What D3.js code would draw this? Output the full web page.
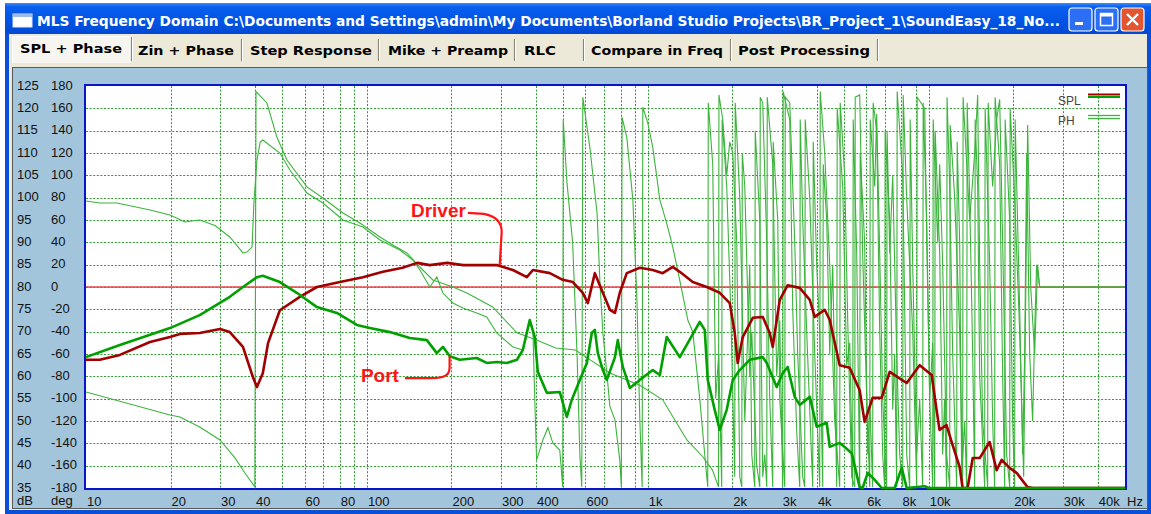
<!DOCTYPE html>
<html>
<head>
<meta charset="utf-8">
<script src="https://cdn.jsdelivr.net/npm/d3@7/dist/d3.min.js"></script>
<style>
  html, body { margin: 0; padding: 0; background: #ffffff; }
  svg { display: block; }
</style>
</head>
<body>
<svg id="chart" width="1151" height="514"></svg>
<script>
// ---------------- data ----------------
const tabNames = ["SPL + Phase", "Zin + Phase", "Step Response", "Mike + Preamp", "RLC", "Compare in Freq", "Post Processing"];
const freqTicks = [10, 20, 30, 40, 60, 80, 100, 200, 300, 400, 600, 1000, 2000, 3000, 4000, 6000, 8000, 10000, 20000, 30000, 40000];
const freqTickLabels = ["10", "20", "30", "40", "60", "80", "100", "200", "300", "400", "600", "1k", "2k", "3k", "4k", "6k", "8k", "10k", "20k", "30k", "40k"];
const dbTicks = [125, 120, 115, 110, 105, 100, 95, 90, 85, 80, 75, 70, 65, 60, 55, 50, 45, 40, 35];
const degTicks = [180, 160, 140, 120, 100, 80, 60, 40, 20, 0, -20, -40, -60, -80, -100, -120, -140, -160, -180];

// Driver SPL [Hz, dB]
const driverSpl = [
  [10, 63.7], [11.2, 63.7], [13.2, 64.8], [16.9, 67.7], [19.9, 68.8], [21.6, 69.5], [25.4, 69.7], [30, 70.6],
  [32.5, 69.9], [36.2, 66.6], [39.3, 59.8], [40.6, 57.6], [42.6, 60.7], [44.5, 67.5], [49, 74.8], [57.7, 77.8],
  [66.4, 80.0], [80.2, 81.1], [96.8, 82.2], [114, 83.4], [134, 84.3], [151, 85.4], [167.5, 84.9], [193, 85.4],
  [220, 84.9], [290, 84.9], [331, 83.8], [371, 82.2], [390, 83.8], [448, 83.1], [498, 81.6], [541, 81.1],
  [587, 78.7], [612, 76.4], [648, 83.1], [692, 78.7], [733, 74.9], [764, 74.2], [795, 78.7], [842, 83.1],
  [937, 84.3], [1042, 83.8], [1130, 83.1], [1227, 84.5], [1300, 83.4], [1446, 81.1], [1622, 80.0], [1804, 78.7],
  [1958, 76.4], [2040, 69.7], [2090, 63.0], [2178, 68.8], [2365, 73.1], [2567, 73.3], [2718, 69.7], [2785, 66.6],
  [2950, 77.1], [3149, 80.4], [3475, 79.8], [3774, 77.1], [3929, 73.3], [4266, 74.9], [4444, 72.6], [4822, 62.5],
  [5236, 61.9], [5680, 56.9], [5916, 49.8], [6319, 55.2], [6804, 55.2], [7265, 61.0], [8351, 58.5], [9290, 62.5],
  [10250, 60.3], [10670, 52.5], [10930, 48.0], [11580, 49.1], [12070, 45.3], [12890, 39.7], [13210, 35.0],
  [13760, 33.5], [14350, 41.7], [15190, 41.7], [16480, 45.3], [17460, 39.0], [18200, 41.3], [19410, 39.5],
  [20560, 38.4], [22490, 35.2], [23500, 33.0], [50000, 30.0]
];

// Port SPL [Hz, dB]
const portSpl = [
  [10, 64.3], [13.2, 67.0], [19.9, 70.8], [25.4, 73.7], [32.5, 77.8], [36.2, 80.0], [40.6, 82.2], [42.6, 82.5],
  [49, 81.1], [56.3, 78.7], [66.4, 75.5], [78.2, 74.2], [92.1, 71.5], [102.5, 70.8], [120.7, 69.9], [142.2, 68.6],
  [163.5, 68.1], [177.4, 65.2], [186.5, 66.6], [197.4, 64.5], [214, 63.7], [246, 64.1], [267, 63.0], [290, 63.2],
  [315, 63.0], [342, 63.7], [359, 65.9], [380, 72.6], [396, 68.8], [406, 61.0], [437, 56.3], [486, 56.5],
  [515, 50.9], [536, 54.7], [573, 59.2], [607, 63.0], [632, 69.7], [648, 70.4], [664, 65.2], [692, 61.4],
  [715, 59.2], [764, 64.3], [782, 68.1], [815, 62.1], [863, 57.4], [937, 59.2], [1042, 61.4], [1104, 60.3],
  [1168, 68.8], [1300, 64.3], [1531, 72.2], [1595, 70.4], [1635, 59.2], [1731, 52.5], [1804, 48.0], [1910, 52.5],
  [2007, 59.2], [2125, 61.4], [2306, 63.7], [2567, 64.3], [2652, 63.0], [2877, 57.6], [3022, 60.7], [3149, 62.1],
  [3335, 55.4], [3475, 53.6], [3774, 55.4], [3993, 48.7], [4335, 49.6], [4444, 44.2], [4822, 45.1], [5023, 44.2],
  [5321, 42.8], [5680, 35.2], [5821, 34.0], [6067, 38.4], [6427, 36.8], [6804, 34.0], [7568, 34.0], [8017, 39.5],
  [8351, 34.0], [9683, 35.4], [10000, 33.0], [50000, 30.0]
];

// Driver phase [Hz, deg]
const driverPhase = [
  [10, 77], [11.2, 75.2], [12.9, 75.2], [16.9, 69], [19.9, 64.5], [22.5, 58.2], [25.4, 60], [28.8, 55],
  [32.5, 44.8], [36.2, 30.5], [37.4, 31.3], [39, 35.8], [39.6, 75.2], [40.6, 113.7], [41.7, 129.9], [42.6, 131.6],
  [49, 120], [53.2, 104.8], [61.2, 84.2], [69.7, 75.2], [82.2, 60], [96.8, 53.7], [111.3, 42.1], [131, 33.1],
  [145.8, 24.2], [154.4, 15.2], [167.5, 0], [177.4, 9], [186.5, -5.4], [202.3, -14.3], [219.6, -18.8],
  [246, -23.3], [267, -26.9], [290, -41.2], [331, -53.7], [359, -56.4], [380, -31.3], [390, -38.5], [396, -101],
  [402, -155], [423, -137], [441, -126], [459, -139.7], [486, -146], [498, -179],
  [500, 150], [515, 95], [540, 40], [560, -60], [573, -150], [582, -179],
  [587, 170], [622, 125], [660, 66], [675, 6], [692, -41], [715, -77], [733, -107], [764, -119], [795, -155], [805, -179],
  [810, 152], [842, 134], [885, 78], [915, -12], [937, -119], [955, -179],
  [960, 161], [1000, 147], [1042, 125], [1104, 78], [1168, 57], [1227, 36], [1300, 6], [1390, -30],
  [1446, -40], [1531, -100], [1595, -150], [1635, -179], [1642, 165], [1703, 110], [1745, -100], [1789, -60],
  [1833, -179], [1840, 150], [1910, 90], [1974, -20], [2040, -170], [2048, 165], [2126, 80], [2215, -120],
  [2270, -40], [2307, 20], [2345, -150], [2403, -179], [2413, 140], [2504, 60], [2566, -170], [2609, -150],
  [2652, -179], [2663, 170], [2785, 110], [2877, -80], [2950, -30], [3022, -179], [3034, 175], [3202, 150],
  [3281, -20], [3391, -130], [3475, -179], [3489, 150], [3561, 60], [3680, -40], [3772, -110], [3866, -179],
  [3882, 130], [3993, 20], [4094, -40], [4196, -179], [4213, 110], [4335, 60], [4444, -60], [4554, 20],
  [4706, -179], [4725, 160], [4943, 90], [5106, -70], [5235, -50], [5365, -179], [5387, 150], [5544, 30],
  [5682, -179], [5705, 120], [5916, 40], [6067, -150], [6168, -100], [6319, -179], [6345, 165], [6530, 140],
  [6694, -40], [6860, -150], [6970, -179], [6999, 140], [7266, 60], [7447, -110], [7568, -60], [7693, -179],
  [7725, 175], [8082, 100], [8217, -20], [8351, -150], [8560, -179], [8595, 150], [8774, 20], [9063, -150],
  [9291, -100], [9520, -179], [9560, 165], [9843, 60], [10085, -100], [10336, -50], [10506, -179], [10549, 140],
  [10946, 30], [11216, -150], [11400, -100], [11580, -179], [11628, 170], [11881, 90], [12176, -60], [12580, -179],
  [12632, 130], [12895, 40], [13108, -170], [13434, -120], [13655, -179], [13711, 165], [13997, 80], [14344, -60],
  [14581, -179], [14641, 150], [14944, 90], [15192, -80], [15566, -140], [15823, -179], [15888, 160], [16490, 20],
  [16897, -120], [17173, -179], [17243, 170], [17898, 110], [18342, -80], [18647, -179], [18723, 150], [19427, 60],
  [19908, -120], [20235, -179], [20318, 150], [21086, -20], [21610, -150], [21967, -60], [22330, 120], [22887, -60],
  [23453, -120], [23842, -40], [24230, 20], [24842, 0], [50000, 0]
];

// Port phase [Hz, deg]
const portPhase = [
  [10, -94], [19.9, -114.6], [21.6, -116.4], [25.4, -125.4], [30, -137], [33.9, -153], [36.8, -166.6], [39.9, -179],
  [40.3, 175], [44.06, 164.8], [47.8, 134.3], [51.9, 113.7], [61.2, 89.6], [69.7, 79.7], [82.2, 66.3], [94.4, 57.3],
  [111.3, 44.8], [123.7, 37.6], [138.7, 30.5], [154.4, 17.9], [171.7, 6.3], [202.3, 0], [227, -5.4], [280.5, -17.9],
  [342, -41], [402, -47.5], [470, -54.6], [553, -56.4], [622, -65], [733, -77], [937, -88], [1130, -101],
  [1378, -137], [1570, -152], [1700, -164], [1785, -179],
  [1792, 172], [1849, 150], [1910, 100], [1958, 130], [2007, 120], [2074, 40], [2126, -170], [2161, -179],
  [2170, 120], [2215, 90], [2307, -80], [2345, -40], [2443, -160], [2504, -179], [2514, 170], [2566, 165],
  [2652, 40], [2718, -100], [2785, -179], [2796, 130], [2902, 60], [2950, -100], [3073, -179], [3086, 170],
  [3202, 165], [3336, 40], [3418, -60], [3561, -170], [3620, -179], [3635, 150], [3772, 80], [3930, -60],
  [4094, -179], [4111, 175], [4265, 120], [4444, 20], [4630, -120], [4823, -179], [4843, 165], [5023, 100],
  [5150, -30], [5322, -170], [5454, -179], [5476, 170], [5682, 172], [5821, 30], [6018, -100], [6168, -179],
  [6193, 150], [6427, 90], [6530, 155], [6694, 30], [6860, -100], [7083, -179], [7112, 140], [7266, 30],
  [7447, 100], [7693, -60], [7887, -150], [8082, -179], [8115, 172], [8351, 80], [8774, -40], [9063, -179],
  [9100, 170], [9683, 160], [9843, 40], [10085, -100], [10336, -179], [10378, 150], [10770, 40], [10946, 110],
  [11216, 20], [11580, -150], [11881, -179], [11930, 145], [12375, 80], [12895, -40], [13210, -179], [13264, 170],
  [13997, 60], [14581, 120], [14944, 172], [15192, 20], [15566, -120], [16220, -179], [16286, 165], [16897, 90],
  [17460, 150], [17898, 168], [18342, 40], [18953, -150], [19427, -179], [19507, 160], [20235, 80], [21086, -40],
  [21788, -170], [22513, 145], [23080, 0], [23842, -60], [24430, 20], [24842, 0], [50000, 0]
];

// callouts: label position and the curve point it points to
const callouts = [
  { label: "Driver", textHz: 143.5, textDb: 95.7, targetHz: 297, targetDb: 84.9 },
  { label: "Port", textHz: 95.2, textDb: 58.7, targetHz: 197, targetDb: 64.5 }
];

// ---------------- layout ----------------
const W = 1151, H = 514;
const plot = { left: 86, right: 1125, top: 86, bottom: 488 };

const svg = d3.select("#chart");
const defs = svg.append("defs");

const x = d3.scaleLog().domain([10, 50000]).range([plot.left, plot.right]);
const yDb = d3.scaleLinear().domain([35, 125]).range([plot.bottom, plot.top]).clamp(true);
const yDeg = d3.scaleLinear().domain([-180, 180]).range([plot.bottom, plot.top]).clamp(true);

// ---------------- window chrome ----------------
const tg = defs.append("linearGradient").attr("id", "titleGrad").attr("x1", 0).attr("y1", 0).attr("x2", 0).attr("y2", 1);
tg.append("stop").attr("offset", "0%").attr("stop-color", "#3d8cf8");
tg.append("stop").attr("offset", "12%").attr("stop-color", "#0a5fef");
tg.append("stop").attr("offset", "60%").attr("stop-color", "#0054e3");
tg.append("stop").attr("offset", "100%").attr("stop-color", "#0148d4");

svg.append("rect").attr("x", 5).attr("y", 3).attr("width", W - 5).attr("height", H - 3).attr("fill", "#0a4fd8");
svg.append("rect").attr("x", 5).attr("y", 3).attr("width", W - 5).attr("height", 31).attr("fill", "url(#titleGrad)");
svg.append("rect").attr("x", 9).attr("y", 34).attr("width", W - 13).attr("height", H - 38).attr("fill", "#ece9d8");

// title icon
svg.append("rect").attr("x", 13).attr("y", 14).attr("width", 19).attr("height", 13).attr("fill", "#ffffff").attr("stroke", "#dfe8f8");
svg.append("rect").attr("x", 13).attr("y", 14).attr("width", 19).attr("height", 3).attr("fill", "#9fb9e8");

svg.append("text")
  .attr("x", 37).attr("y", 26)
  .attr("font-family", "DejaVu Sans, Verdana, sans-serif").attr("font-weight", "bold").attr("font-size", 14)
  .attr("fill", "#ffffff")
  .attr("textLength", 1023).attr("lengthAdjust", "spacingAndGlyphs")
  .text("MLS Frequency Domain  C:\\Documents and Settings\\admin\\My Documents\\Borland Studio Projects\\BR_Project_1\\SoundEasy_18_No...");

// caption buttons
const btns = [{ x: 1069, fill: "#2b6ff4", kind: "min" }, { x: 1095, fill: "#2b6ff4", kind: "max" }, { x: 1121, fill: "#e2562f", kind: "close" }];
btns.forEach(b => {
  svg.append("rect").attr("x", b.x).attr("y", 8).attr("width", 23).attr("height", 23).attr("rx", 3)
    .attr("fill", b.fill).attr("stroke", "#ffffff").attr("stroke-width", 1.2);
  if (b.kind === "min") {
    svg.append("rect").attr("x", b.x + 6).attr("y", 22).attr("width", 8).attr("height", 3).attr("fill", "#fff");
  } else if (b.kind === "max") {
    svg.append("rect").attr("x", b.x + 5.5).attr("y", 13.5).attr("width", 12).attr("height", 12).attr("fill", "none")
      .attr("stroke", "#fff").attr("stroke-width", 1.5);
    svg.append("rect").attr("x", b.x + 5.5).attr("y", 13.5).attr("width", 12).attr("height", 3).attr("fill", "#fff");
  } else {
    svg.append("path").attr("d", `M${b.x + 6},${14} L${b.x + 17},${25} M${b.x + 17},${14} L${b.x + 6},${25}`)
      .attr("stroke", "#fff").attr("stroke-width", 2.4);
  }
});

// tabs
const tabEnd = [131, 241, 378, 514, 583, 730, 877];
const tabTextX = [20, 138, 250, 388, 524, 591, 738];
const tabTextW = [102, 96, 122, 120, 32, 132, 132];
svg.append("rect").attr("x", 12).attr("y", 36).attr("width", 119).attr("height", 27).attr("fill", "#f6f5ef");
svg.append("path").attr("d", "M12.5,63 L12.5,36.5 L130.5,36.5").attr("fill", "none").attr("stroke", "#ffffff");
tabNames.forEach((t, i) => {
  const active = i === 0;
  svg.append("text")
    .attr("x", tabTextX[i]).attr("y", active ? 53 : 55)
    .attr("font-family", "DejaVu Sans, Verdana, sans-serif").attr("font-weight", "bold").attr("font-size", 13)
    .attr("fill", "#000")
    .attr("textLength", tabTextW[i]).attr("lengthAdjust", "spacingAndGlyphs")
    .text(t);
  const sx = tabEnd[i];
  svg.append("line").attr("x1", sx + 0.5).attr("x2", sx + 0.5).attr("y1", active ? 37 : 39).attr("y2", 61).attr("stroke", "#8a877a").attr("stroke-width", 1.2);
  svg.append("line").attr("x1", sx + 1.5).attr("x2", sx + 1.5).attr("y1", active ? 37 : 39).attr("y2", 61).attr("stroke", "#ffffff");
});

// plot panel
svg.append("rect").attr("x", 12.5).attr("y", 67.5).attr("width", 1135).attr("height", 441)
  .attr("fill", "#a2c5dc").attr("stroke", "#5a5a5a");

// plot background
svg.append("rect").attr("x", plot.left).attr("y", plot.top).attr("width", plot.right - plot.left).attr("height", plot.bottom - plot.top).attr("fill", "#ffffff");

// ---------------- grid ----------------
const gridMinor = [];
[10, 100, 1000, 10000].forEach(dec => { for (let k = 1; k <= 9; k++) { const f = dec * k; if (f <= 50000) gridMinor.push(f); } });
const grid = svg.append("g").attr("stroke", "#2f9a2f").attr("stroke-width", 1).attr("stroke-dasharray", "2,1.6");
grid.selectAll("line.v").data(gridMinor.filter(f => f > 10 && f < 50000)).join("line")
  .attr("x1", d => Math.round(x(d)) + 0.5).attr("x2", d => Math.round(x(d)) + 0.5)
  .attr("y1", plot.top).attr("y2", plot.bottom);
grid.selectAll("line.h").data(dbTicks.filter(d => d > 35 && d < 125)).join("line")
  .attr("x1", plot.left).attr("x2", plot.right)
  .attr("y1", d => Math.round(yDb(d)) + 0.5).attr("y2", d => Math.round(yDb(d)) + 0.5);

// reference line at 80 dB / 0 deg
svg.append("line").attr("x1", plot.left).attr("x2", plot.right)
  .attr("y1", yDb(80)).attr("y2", yDb(80)).attr("stroke", "#e04848").attr("stroke-width", 1.3);

// ---------------- axis labels ----------------
const labelFont = "Liberation Sans, Arial, sans-serif";
const axisG = svg.append("g").attr("font-family", labelFont).attr("font-size", 13).attr("fill", "#111");
axisG.selectAll("text.db").data(dbTicks).join("text")
  .attr("x", 17).attr("y", d => yDb(d) - 1).attr("dominant-baseline", "central").text(d => d);
axisG.selectAll("text.deg").data(degTicks).join("text")
  .attr("x", 51).attr("y", d => yDeg(d) - 1).attr("dominant-baseline", "central").text(d => d);
axisG.append("text").attr("x", 17).attr("y", 500).attr("dominant-baseline", "central").text("dB");
axisG.append("text").attr("x", 51).attr("y", 500).attr("dominant-baseline", "central").text("deg");
axisG.selectAll("text.f").data(freqTicks).join("text")
  .attr("x", d => x(d) + 1).attr("y", 501).attr("dominant-baseline", "central")
  .text((d, i) => freqTickLabels[i]);
axisG.append("text").attr("x", 1127).attr("y", 501).attr("dominant-baseline", "central").text("Hz");

// ---------------- curves ----------------
defs.append("clipPath").attr("id", "plotClip").append("rect")
  .attr("x", plot.left).attr("y", plot.top - 1).attr("width", plot.right - plot.left).attr("height", plot.bottom - plot.top + 2);

// plot frame
svg.append("rect").attr("x", plot.left - 1).attr("y", plot.top - 1).attr("width", plot.right - plot.left + 2).attr("height", plot.bottom - plot.top + 2)
  .attr("fill", "none").attr("stroke", "#0a14c8").attr("stroke-width", 2);

const curves = svg.append("g").attr("clip-path", "url(#plotClip)");
const phaseLine = d3.line().x(d => x(d[0])).y(d => yDeg(d[1]));
const splLine = d3.line().x(d => x(d[0])).y(d => yDb(d[1]));

curves.append("path").datum(driverPhase).attr("d", phaseLine).attr("fill", "none").attr("stroke", "#3cb43c").attr("stroke-width", 1.1);
curves.append("path").datum(portPhase).attr("d", phaseLine).attr("fill", "none").attr("stroke", "#3cb43c").attr("stroke-width", 1.1);
curves.append("path").datum(driverSpl).attr("d", splLine).attr("fill", "none").attr("stroke", "#a00000").attr("stroke-width", 2.6).attr("stroke-linejoin", "round");
curves.append("path").datum(portSpl).attr("d", splLine).attr("fill", "none").attr("stroke", "#00a000").attr("stroke-width", 2.6).attr("stroke-linejoin", "round");

// ---------------- legend ----------------
const lg = svg.append("g").attr("font-family", labelFont).attr("font-size", 12).attr("fill", "#444");
lg.append("text").attr("x", 1058).attr("y", 101).attr("dominant-baseline", "central").text("SPL");
lg.append("line").attr("x1", 1088).attr("x2", 1120).attr("y1", 94.5).attr("y2", 94.5).attr("stroke", "#a00000").attr("stroke-width", 2);
lg.append("line").attr("x1", 1088).attr("x2", 1120).attr("y1", 97).attr("y2", 97).attr("stroke", "#00a000").attr("stroke-width", 2);
lg.append("text").attr("x", 1058).attr("y", 121).attr("dominant-baseline", "central").text("PH");
lg.append("line").attr("x1", 1088).attr("x2", 1120).attr("y1", 115.5).attr("y2", 115.5).attr("stroke", "#3cb43c").attr("stroke-width", 1.3);
lg.append("line").attr("x1", 1088).attr("x2", 1120).attr("y1", 118.5).attr("y2", 118.5).attr("stroke", "#3cb43c").attr("stroke-width", 1.3);

// ---------------- callouts ----------------
const cg = svg.append("g");
callouts.forEach(c => {
  const tx = x(c.textHz), ty = yDb(c.textDb);
  const label = cg.append("text").attr("x", tx).attr("y", ty)
    .attr("font-family", labelFont).attr("font-weight", "bold").attr("font-size", 19)
    .attr("fill", "#ff1414").text(c.label);
  const tw = label.node().getComputedTextLength();
  const sx = tx + tw + 2, sy = ty - 4;
  const bx = x(c.targetHz), ey = yDb(c.targetDb);
  let d;
  if (ey > sy) {
    d = `M${sx},${sy} L${bx - 16},${sy + 1} C${bx - 5},${sy + 3} ${bx + 2},${sy + 9} ${bx + 2},${sy + 19} L${bx},${ey}`;
  } else {
    d = `M${sx + 4},${sy} L${bx - 18},${sy} C${bx - 5},${sy} ${bx},${sy - 3} ${bx},${sy - 11} L${bx},${ey}`;
  }
  cg.append("path").attr("d", d).attr("fill", "none").attr("stroke", "#ff1414").attr("stroke-width", 2.2);
});
</script>
</body>
</html>
